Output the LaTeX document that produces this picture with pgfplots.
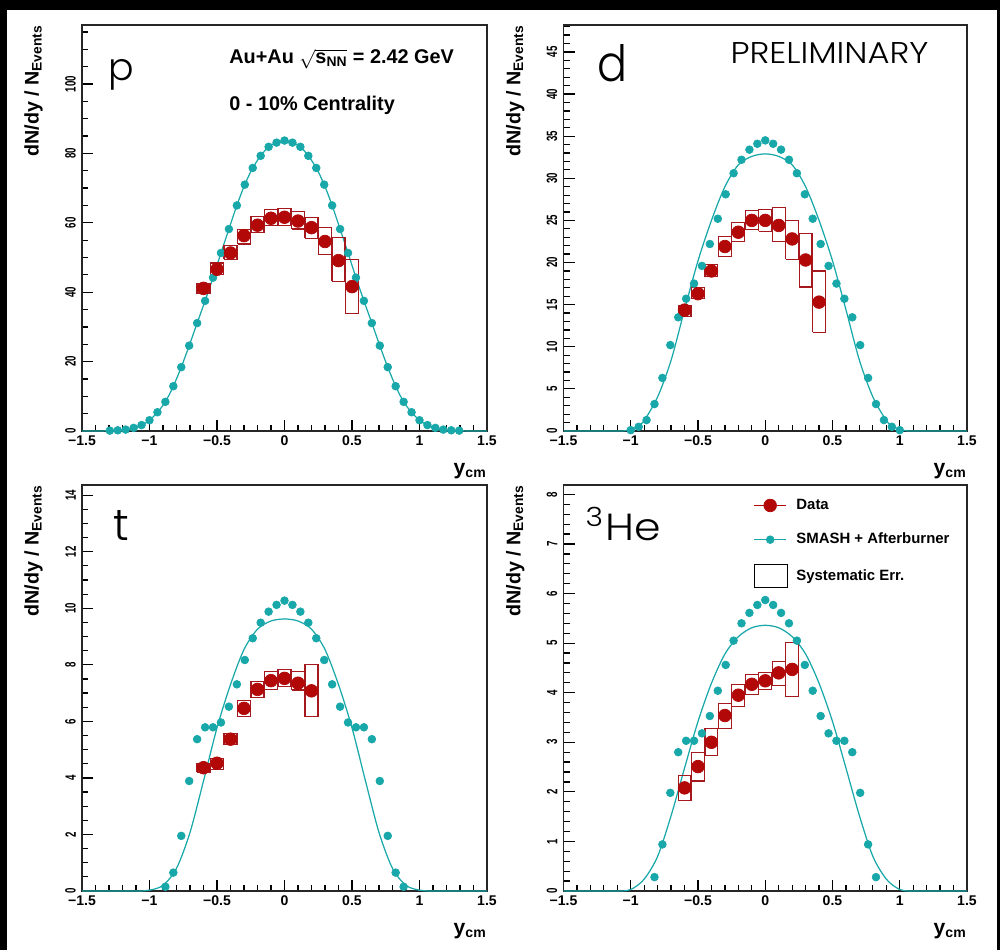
\documentclass[border=0pt]{standalone}
\usepackage{pgfplots}
\pgfplotsset{compat=1.18}
\usepackage{pgfplotstable}
\usepackage{graphicx}
\usepackage{fontspec}
\setmainfont{Liberation Sans}
\newfontfamily\labfont{Poppins}[UprightFont=* Light]

\definecolor{datared}{RGB}{178,8,8}
\definecolor{boxred}{RGB}{165,25,30}
\definecolor{smash}{RGB}{25,168,170}

% ---------------- SMASH points ----------------
\pgfplotstableread{
x y
-1.2941 0.1
-1.2353 0.2
-1.1765 0.4
-1.1176 0.9
-1.0588 1.7
-1.0000 3.1
-0.9412 5.4
-0.8824 8.4
-0.8235 12.9
-0.7647 18.4
-0.7059 24.6
-0.6471 31.1
-0.5882 37.5
-0.5294 44.2
-0.4706 51.3
-0.4118 58.2
-0.3529 65.0
-0.2941 71.0
-0.2353 75.8
-0.1765 79.3
-0.1176 81.9
-0.0588 83.1
0.0000 83.7
0.0588 83.1
0.1176 81.9
0.1765 79.3
0.2353 75.8
0.2941 71.0
0.3529 65.0
0.4118 58.2
0.4706 51.3
0.5294 44.2
0.5882 37.5
0.6471 31.1
0.7059 24.6
0.7647 18.4
0.8235 12.9
0.8824 8.4
0.9412 5.4
1.0000 3.1
1.0588 1.7
1.1176 0.9
1.1765 0.4
1.2353 0.2
1.2941 0.1
}\psmash

\pgfplotstableread{
x y
-1.5 0
-1.35 0.02
-1.2941 0.1
-1.2353 0.2
-1.1765 0.4
-1.1176 0.9
-1.0588 1.7
-1.0000 3.1
-0.9412 5.4
-0.8824 8.4
-0.8235 12.9
-0.7647 18.4
-0.7059 24.6
-0.6471 31.1
-0.5882 37.5
-0.5294 44.2
-0.4706 51.3
-0.4118 58.2
-0.3529 65.0
-0.2941 71.0
-0.2353 75.8
-0.1765 79.3
-0.1176 81.9
-0.0588 83.1
0.0000 83.7
0.0588 83.1
0.1176 81.9
0.1765 79.3
0.2353 75.8
0.2941 71.0
0.3529 65.0
0.4118 58.2
0.4706 51.3
0.5294 44.2
0.5882 37.5
0.6471 31.1
0.7059 24.6
0.7647 18.4
0.8235 12.9
0.8824 8.4
0.9412 5.4
1.0000 3.1
1.0588 1.7
1.1176 0.9
1.1765 0.4
1.2353 0.2
1.2941 0.1
1.35 0.02
1.5 0
}\pcurve

\pgfplotstableread{
x y
-1.0000 0.1
-0.9412 0.5
-0.8824 1.3
-0.8235 3.2
-0.7647 6.3
-0.7059 10.2
-0.6471 13.5
-0.5882 15.7
-0.5294 17.5
-0.4706 19.6
-0.4118 22.2
-0.3529 25.2
-0.2941 28.1
-0.2353 30.6
-0.1765 32.2
-0.1176 33.4
-0.0588 34.1
0.0000 34.5
0.0588 34.1
0.1176 33.4
0.1765 32.2
0.2353 30.6
0.2941 28.1
0.3529 25.2
0.4118 22.2
0.4706 19.6
0.5294 17.5
0.5882 15.7
0.6471 13.5
0.7059 10.2
0.7647 6.3
0.8235 3.2
0.8824 1.3
0.9412 0.5
1.0000 0.1
}\dsmash

\pgfplotstableread{
x y
-1.5 0
-1.1 0
-1.05 0.03
-1.0 0.15
-0.95 0.55
-0.9 1.25
-0.8 4.05
-0.7 8.4
-0.6 14.4
-0.5 20.2
-0.4 25.0
-0.3 29.0
-0.2 31.6
-0.1 32.6
0.0 32.9
0.1 32.6
0.2 31.6
0.3 29.0
0.4 25.0
0.5 20.2
0.6 14.4
0.7 8.4
0.8 4.05
0.9 1.25
0.95 0.55
1.0 0.15
1.05 0.03
1.1 0
1.5 0
}\dcurve

\pgfplotstableread{
x y
-0.8824 0.15
-0.8235 0.65
-0.7647 1.95
-0.7059 3.89
-0.6471 5.37
-0.5882 5.79
-0.5294 5.79
-0.4706 5.96
-0.4118 6.52
-0.3529 7.31
-0.2941 8.17
-0.2353 8.94
-0.1765 9.49
-0.1176 9.88
-0.0588 10.12
0.0000 10.27
0.0588 10.12
0.1176 9.88
0.1765 9.49
0.2353 8.94
0.2941 8.17
0.3529 7.31
0.4118 6.52
0.4706 5.96
0.5294 5.79
0.5882 5.79
0.6471 5.37
0.7059 3.89
0.7647 1.95
0.8235 0.65
0.8824 0.15
}\tsmash

\pgfplotstableread{
x y
-1.5 0
-1.1 0
-1.0 0.03
-0.9 0.2
-0.8 0.8
-0.7 2.07
-0.6 3.89
-0.5 5.77
-0.4 7.3
-0.3 8.54
-0.2 9.26
-0.1 9.55
0.0 9.62
0.1 9.55
0.2 9.26
0.3 8.54
0.4 7.3
0.5 5.77
0.6 3.89
0.7 2.07
0.8 0.8
0.9 0.2
1.0 0.03
1.1 0
1.5 0
}\tcurve

\pgfplotstableread{
x y
-0.8235 0.28
-0.7647 0.94
-0.7059 1.98
-0.6471 2.80
-0.5882 3.03
-0.5294 3.03
-0.4706 3.18
-0.4118 3.53
-0.3529 4.04
-0.2941 4.56
-0.2353 5.05
-0.1765 5.40
-0.1176 5.61
-0.0588 5.77
0.0000 5.87
0.0588 5.77
0.1176 5.61
0.1765 5.40
0.2353 5.05
0.2941 4.56
0.3529 4.04
0.4118 3.53
0.4706 3.18
0.5294 3.03
0.5882 3.03
0.6471 2.80
0.7059 1.98
0.7647 0.94
0.8235 0.28
}\hsmash

\pgfplotstableread{
x y
-1.5 0
-1.1 0
-1.0 0.03
-0.9 0.24
-0.8 0.70
-0.7 1.52
-0.6 2.48
-0.5 3.42
-0.4 4.19
-0.3 4.78
-0.2 5.13
-0.1 5.31
0.0 5.36
0.1 5.31
0.2 5.13
0.3 4.78
0.4 4.19
0.5 3.42
0.6 2.48
0.7 1.52
0.8 0.70
0.9 0.24
1.0 0.03
1.1 0
1.5 0
}\hcurve

\pgfplotsset{
  myax/.style={
    scale only axis, width=8.1cm, height=8.12cm,
    xmin=-1.5, xmax=1.5, ymin=0,
    clip=false,
    axis line style={line width=0.7pt, black!85},
    tick align=inside, tick pos=left,
    xtick={-1.5,-1,-0.5,0,0.5,1,1.5},
    xticklabels={−1.5,−1,−0.5,0,0.5,1,1.5},
    minor xtick={-1.4,-1.3,-1.2,-1.1,-0.9,-0.8,-0.7,-0.6,-0.4,-0.3,-0.2,-0.1,0.1,0.2,0.3,0.4,0.6,0.7,0.8,0.9,1.1,1.2,1.3,1.4},
    major tick length=0.22cm, minor tick length=0.12cm,
    every tick/.style={black, line width=0.7pt},
    ticklabel style={font=\bfseries\fontsize{8}{9}\selectfont},
    /pgf/number format/assume math mode=true,
    xticklabel style={yshift=1pt},
    yticklabel style={rotate=90, xscale=0.65, anchor=south, font=\bfseries\fontsize{8.5}{9}\selectfont},
    ylabel={dN/dy / N\textsubscript{Events}},
    ylabel style={at={(axis description cs:-0.096,1)}, anchor=south east, inner sep=0pt, font=\bfseries\fontsize{11.2}{13}\selectfont},
    xlabel={y\textsubscript{cm}},
    xlabel style={at={(axis description cs:1,-0.079)}, anchor=north east, inner sep=0pt, font=\bfseries\fontsize{12}{14}\selectfont},
  },
  curvest/.style={smash, line width=0.7pt, smooth, tension=0.5, no marks},
  smashst/.style={only marks, mark=*, mark size=2.2pt, mark options={fill=smash, draw=smash}},
  datast/.style={only marks, mark=*, mark size=3.6pt, mark options={fill=datared, draw=datared}},
  boxst/.style={boxred, line width=0.65pt, no marks, unbounded coords=jump, line join=miter},
}

\begin{document}
\begin{tikzpicture}
\useasboundingbox (0,0) rectangle (20,19);
\fill[black] (0,0) rectangle (20,19);
\fill[white] (0.14,0) rectangle (19.94,18.8);

% ================= p =================
\begin{axis}[myax, at={(1.64cm,10.38cm)}, anchor=south west,
  ymax=117, ytick={0,20,40,60,80,100}, minor ytick={5,10,15,25,30,35,45,50,55,65,70,75,85,90,95,105,110,115}]
\addplot[curvest] table {\pcurve};
\addplot[smashst] table {\psmash};
\addplot[boxst] coordinates {
(-0.648,39.5) (-0.552,39.5) (-0.552,42.6) (-0.648,42.6) (-0.648,39.5) (nan,nan)
(-0.548,45.0) (-0.452,45.0) (-0.452,48.4) (-0.548,48.4) (-0.548,45.0) (nan,nan)
(-0.448,49.5) (-0.352,49.5) (-0.352,53.4) (-0.448,53.4) (-0.448,49.5) (nan,nan)
(-0.348,53.9) (-0.252,53.9) (-0.252,58.0) (-0.348,58.0) (-0.348,53.9) (nan,nan)
(-0.248,57.3) (-0.152,57.3) (-0.152,61.8) (-0.248,61.8) (-0.248,57.3) (nan,nan)
(-0.148,59.1) (-0.052,59.1) (-0.052,63.9) (-0.148,63.9) (-0.148,59.1) (nan,nan)
(-0.048,59.3) (0.048,59.3) (0.048,64.2) (-0.048,64.2) (-0.048,59.3) (nan,nan)
(0.052,58.2) (0.148,58.2) (0.148,63.2) (0.052,63.2) (0.052,58.2) (nan,nan)
(0.152,55.5) (0.248,55.5) (0.248,61.6) (0.152,61.6) (0.152,55.5) (nan,nan)
(0.252,50.8) (0.348,50.8) (0.348,58.7) (0.252,58.7) (0.252,50.8) (nan,nan)
(0.352,43.1) (0.448,43.1) (0.448,55.8) (0.352,55.8) (0.352,43.1) (nan,nan)
(0.452,33.8) (0.548,33.8) (0.548,49.5) (0.452,49.5) (0.452,33.8)
};
\addplot[datast] coordinates {(-0.6,41.1) (-0.5,46.6) (-0.4,51.3) (-0.3,56.3) (-0.2,59.3) (-0.1,61.3) (0,61.6) (0.1,60.5) (0.2,58.6) (0.3,54.6) (0.4,49.1) (0.5,41.6)};
\node[anchor=base west, inner sep=0pt] at (rel axis cs:0.064,0.864) {\labfont\resizebox{!}{0.42cm}{p}};
\node[anchor=base west, inner sep=0pt, font=\bfseries\fontsize{11.3}{13}\selectfont] at (rel axis cs:0.363,0.904) {Au+Au $\sqrt{\hbox{s\textsubscript{NN}}}$ = 2.42 GeV};
\node[anchor=base west, inner sep=0pt, font=\bfseries\fontsize{11.3}{13}\selectfont] at (rel axis cs:0.363,0.79) {0 - 10\% Centrality};
\end{axis}

% ================= d =================
\begin{axis}[myax, width=8.07cm, at={(11.27cm,10.38cm)}, anchor=south west,
  ymax=48.2, ytick={0,5,...,45}, minor ytick={1,2,3,4,6,7,8,9,11,12,13,14,16,17,18,19,21,22,23,24,26,27,28,29,31,32,33,34,36,37,38,39,41,42,43,44,46,47,48}]
\addplot[curvest] table {\dcurve};
\addplot[smashst] table {\dsmash};
\addplot[boxst] coordinates {
(-0.648,13.6) (-0.552,13.6) (-0.552,14.9) (-0.648,14.9) (-0.648,13.6) (nan,nan)
(-0.548,15.7) (-0.452,15.7) (-0.452,17.0) (-0.548,17.0) (-0.548,15.7) (nan,nan)
(-0.448,18.3) (-0.352,18.3) (-0.352,19.8) (-0.448,19.8) (-0.448,18.3) (nan,nan)
(-0.348,20.7) (-0.252,20.7) (-0.252,23.05) (-0.348,23.05) (-0.348,20.7) (nan,nan)
(-0.248,22.5) (-0.152,22.5) (-0.152,24.75) (-0.248,24.75) (-0.248,22.5) (nan,nan)
(-0.148,23.9) (-0.052,23.9) (-0.052,26.2) (-0.148,26.2) (-0.148,23.9) (nan,nan)
(-0.048,23.7) (0.048,23.7) (0.048,26.3) (-0.048,26.3) (-0.048,23.7) (nan,nan)
(0.052,22.5) (0.148,22.5) (0.148,26.5) (0.052,26.5) (0.052,22.5) (nan,nan)
(0.152,20.4) (0.248,20.4) (0.248,25.0) (0.152,25.0) (0.152,20.4) (nan,nan)
(0.252,17.1) (0.348,17.1) (0.348,23.4) (0.252,23.4) (0.252,17.1) (nan,nan)
(0.352,11.7) (0.448,11.7) (0.448,19.0) (0.352,19.0) (0.352,11.7)
};
\addplot[datast] coordinates {(-0.6,14.35) (-0.5,16.3) (-0.4,19.0) (-0.3,21.9) (-0.2,23.6) (-0.1,25.0) (0,25.0) (0.1,24.4) (0.2,22.8) (0.3,20.3) (0.4,15.3)};
\node[anchor=base west, inner sep=0pt] at (rel axis cs:0.084,0.86) {\labfont\resizebox{0.6cm}{0.74cm}{d}};
\node[anchor=base west, inner sep=0pt] at (rel axis cs:0.413,0.906) {\labfont\resizebox{3.96cm}{0.42cm}{PRELIMINARY}};
\end{axis}

% ================= t =================
\begin{axis}[myax, at={(1.64cm,1.18cm)}, anchor=south west,
  ymax=14.36, ytick={0,2,...,14}, minor ytick={0.5,1,1.5,2.5,3,3.5,4.5,5,5.5,6.5,7,7.5,8.5,9,9.5,10.5,11,11.5,12.5,13,13.5}]
\addplot[curvest] table {\tcurve};
\addplot[smashst] table {\tsmash};
\addplot[boxst] coordinates {
(-0.648,4.2) (-0.552,4.2) (-0.552,4.5) (-0.648,4.5) (-0.648,4.2) (nan,nan)
(-0.548,4.30) (-0.452,4.30) (-0.452,4.69) (-0.548,4.69) (-0.548,4.30) (nan,nan)
(-0.448,5.17) (-0.352,5.17) (-0.352,5.58) (-0.448,5.58) (-0.448,5.17) (nan,nan)
(-0.348,6.17) (-0.252,6.17) (-0.252,6.73) (-0.348,6.73) (-0.348,6.17) (nan,nan)
(-0.248,6.84) (-0.152,6.84) (-0.152,7.41) (-0.248,7.41) (-0.248,6.84) (nan,nan)
(-0.148,7.13) (-0.052,7.13) (-0.052,7.76) (-0.148,7.76) (-0.148,7.13) (nan,nan)
(-0.048,7.23) (0.048,7.23) (0.048,7.82) (-0.048,7.82) (-0.048,7.23) (nan,nan)
(0.052,7.11) (0.148,7.11) (0.148,7.76) (0.052,7.76) (0.052,7.11) (nan,nan)
(0.152,6.17) (0.248,6.17) (0.248,8.0) (0.152,8.0) (0.152,6.17)
};
\addplot[datast] coordinates {(-0.6,4.36) (-0.5,4.52) (-0.4,5.37) (-0.3,6.46) (-0.2,7.13) (-0.1,7.44) (0,7.52) (0.1,7.35) (0.2,7.08)};
\node[anchor=base west, inner sep=0pt] at (rel axis cs:0.077,0.864) {\labfont\resizebox{!}{0.6cm}{t}};
\end{axis}

% ================= 3He =================
\begin{axis}[myax, width=8.07cm, at={(11.27cm,1.18cm)}, anchor=south west,
  ymax=8.19, ytick={0,1,...,8}, minor ytick={0.2,0.4,0.6,0.8,1.2,1.4,1.6,1.8,2.2,2.4,2.6,2.8,3.2,3.4,3.6,3.8,4.2,4.4,4.6,4.8,5.2,5.4,5.6,5.8,6.2,6.4,6.6,6.8,7.2,7.4,7.6,7.8,8.2},
  legend style={at={(axis description cs:0.47,0.975)}, anchor=north west, draw=none, fill=none,
    font=\bfseries\fontsize{8.5}{10}\selectfont, row sep=0.28cm, inner sep=0pt,
    /tikz/every odd column/.append style={column sep=0.1cm}},
  legend cell align=left]
\addlegendimage{legend image code/.code={\draw[datared, line width=0.8pt] (0cm,0cm) -- (0.64cm,0cm); \fill[datared] (0.32cm,0cm) circle (3.6pt);}}
\addlegendimage{legend image code/.code={\draw[smash, line width=0.8pt] (0cm,0cm) -- (0.64cm,0cm); \fill[smash] (0.32cm,0cm) circle (2.2pt);}}
\addlegendimage{legend image code/.code={\draw[black, line width=0.8pt] (0cm,-0.23cm) rectangle (0.66cm,0.23cm);}}
\addplot[curvest, forget plot] table {\hcurve};
\addplot[smashst, forget plot] table {\hsmash};
\addplot[boxst, forget plot] coordinates {
(-0.648,1.82) (-0.552,1.82) (-0.552,2.33) (-0.648,2.33) (-0.648,1.82) (nan,nan)
(-0.548,2.22) (-0.452,2.22) (-0.452,2.79) (-0.548,2.79) (-0.548,2.22) (nan,nan)
(-0.448,2.73) (-0.352,2.73) (-0.352,3.28) (-0.448,3.28) (-0.448,2.73) (nan,nan)
(-0.348,3.28) (-0.252,3.28) (-0.252,3.78) (-0.348,3.78) (-0.348,3.28) (nan,nan)
(-0.248,3.72) (-0.152,3.72) (-0.152,4.17) (-0.248,4.17) (-0.248,3.72) (nan,nan)
(-0.148,3.97) (-0.052,3.97) (-0.052,4.36) (-0.148,4.36) (-0.148,3.97) (nan,nan)
(-0.048,4.07) (0.048,4.07) (0.048,4.40) (-0.048,4.40) (-0.048,4.07) (nan,nan)
(0.052,4.15) (0.148,4.15) (0.148,4.63) (0.052,4.63) (0.052,4.15) (nan,nan)
(0.152,3.92) (0.248,3.92) (0.248,5.02) (0.152,5.02) (0.152,3.92)
};
\addplot[datast, forget plot] coordinates {(-0.6,2.08) (-0.5,2.51) (-0.4,3.0) (-0.3,3.54) (-0.2,3.95) (-0.1,4.17) (0,4.24) (0.1,4.40) (0.2,4.47)};
\legend{Data, SMASH + Afterburner, Systematic Err.}
\node[anchor=base west, inner sep=0pt] at (rel axis cs:0.054,0.864) {\labfont\resizebox{1.5cm}{0.66cm}{\textsuperscript{3}He}};
\end{axis}
\end{tikzpicture}
\end{document}
